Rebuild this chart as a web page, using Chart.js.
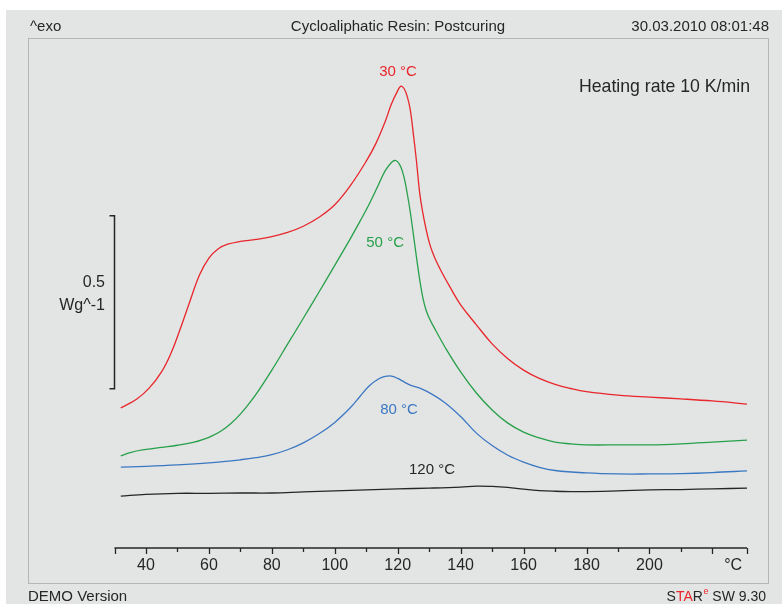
<!DOCTYPE html>
<html>
<head>
<meta charset="utf-8">
<script src="https://cdn.jsdelivr.net/npm/chart.js@4/dist/chart.umd.min.js"></script>
<style>
  html, body { margin: 0; padding: 0; background: #ffffff; }
  canvas { display: block; }
</style>
</head>
<body>
<canvas id="dsc" width="782" height="604" style="width:782px;height:604px"></canvas>
<script>
// DSC postcuring curves: temperature (°C) vs. heat flow (W/g, exo up, offset per curve)
const cure30T    = [32, 37, 41, 45, 48, 51, 54, 57, 60, 63, 66, 70, 75, 80, 85, 90, 95, 100, 105, 110, 113, 116, 118, 120, 121, 122, 123, 124, 125, 126, 127, 128, 129, 130, 131, 132, 134, 137, 140, 145, 150, 155, 160, 165, 170, 175, 180, 190, 200, 210, 220, 231];
const cure30Flow = [0.405, 0.430, 0.462, 0.510, 0.564, 0.636, 0.714, 0.789, 0.838, 0.865, 0.878, 0.886, 0.892, 0.900, 0.912, 0.930, 0.956, 0.992, 1.048, 1.118, 1.168, 1.232, 1.283, 1.322, 1.335, 1.328, 1.306, 1.266, 1.194, 1.115, 1.025, 0.968, 0.922, 0.884, 0.856, 0.834, 0.797, 0.748, 0.703, 0.645, 0.590, 0.547, 0.514, 0.490, 0.473, 0.461, 0.452, 0.442, 0.436, 0.431, 0.425, 0.416];

const cure50T    = [32, 35, 40, 45, 50, 55, 58, 61, 64, 67, 70, 73, 76, 80, 85, 90, 95, 100, 105, 108, 111, 114, 116, 118, 119, 120, 121, 122, 123, 124, 125, 126, 127, 128, 129, 130, 132, 135, 140, 145, 150, 155, 160, 165, 170, 175, 180, 190, 200, 210, 220, 231];
const cure50Flow = [0.266, 0.276, 0.285, 0.291, 0.297, 0.305, 0.313, 0.324, 0.339, 0.360, 0.387, 0.420, 0.458, 0.514, 0.589, 0.664, 0.740, 0.817, 0.895, 0.944, 0.995, 1.052, 1.090, 1.114, 1.120, 1.116, 1.101, 1.072, 1.026, 0.971, 0.905, 0.838, 0.775, 0.723, 0.688, 0.665, 0.630, 0.581, 0.509, 0.448, 0.399, 0.361, 0.335, 0.318, 0.306, 0.301, 0.298, 0.298, 0.298, 0.301, 0.306, 0.312];

const cure80T    = [32, 40, 50, 60, 70, 75, 80, 85, 90, 95, 100, 105, 108, 111, 114, 116, 118, 120, 122, 124, 127, 130, 135, 140, 145, 150, 155, 160, 165, 170, 180, 190, 200, 210, 220, 231];
const cure80Flow = [0.234, 0.236, 0.240, 0.246, 0.255, 0.261, 0.270, 0.284, 0.304, 0.330, 0.363, 0.406, 0.438, 0.469, 0.489, 0.496, 0.497, 0.490, 0.480, 0.471, 0.462, 0.449, 0.420, 0.380, 0.332, 0.296, 0.268, 0.248, 0.233, 0.224, 0.217, 0.214, 0.214, 0.215, 0.218, 0.223];

const cure120T    = [32, 40, 50, 60, 70, 80, 90, 100, 110, 120, 130, 140, 145, 150, 155, 160, 165, 170, 175, 180, 190, 200, 210, 220, 231];
const cure120Flow = [0.150, 0.155, 0.158, 0.158, 0.159, 0.159, 0.162, 0.165, 0.168, 0.171, 0.173, 0.176, 0.179, 0.178, 0.175, 0.170, 0.166, 0.164, 0.163, 0.163, 0.165, 0.168, 0.169, 0.171, 0.173];

// curve annotations (curing temperature), placed in data coordinates
const curveLabels    = ['30 °C', '50 °C', '80 °C', '120 °C'];
const curveLabelT    = [120.1, 116.0, 120.4, 130.9];
const curveLabelFlow = [1.376, 0.882, 0.399, 0.225];

// temperature axis
const axisStart = 30;
const axisEnd = 231;
const majorTicks = [40, 60, 80, 100, 120, 140, 160, 180, 200, 220];
const majorTickLabels = ['40', '60', '80', '100', '120', '140', '160', '180', '200', ''];
const minorTicks = [50, 70, 90, 110, 130, 150, 170, 190, 210];
const unitLabelT = 226.6;

// heat-flow scale bar: 0.5 W/g
const scaleBarFrom = 0.46;
const scaleBarSize = 0.5;

const COLORS = {
  c30: '#e8262b',
  c50: '#27a04a',
  c80: '#3b78c2',
  c120: '#262626',
  text: '#262626',
  panel: '#e3e4e4',
  frame: '#b4b5b5'
};
const FONT = '"Liberation Sans", Arial, sans-serif';

function points(ts, vs) {
  return ts.map((t, i) => ({ x: t, y: vs[i] }));
}

const starDecor = {
  id: 'starDecor',
  beforeDraw(chart) {
    const ctx = chart.ctx;
    ctx.save();
    ctx.fillStyle = '#ffffff';
    ctx.fillRect(0, 0, chart.width, chart.height);
    ctx.fillStyle = COLORS.panel;
    ctx.fillRect(6, 10, chart.width - 6, chart.height - 10);
    ctx.strokeStyle = COLORS.frame;
    ctx.lineWidth = 1;
    ctx.strokeRect(28.5, 38.5, 740, 545);
    ctx.restore();
  },
  afterDraw(chart) {
    const ctx = chart.ctx;
    const xs = chart.scales.x;
    const ys = chart.scales.y;
    ctx.save();
    ctx.fillStyle = COLORS.text;
    ctx.textBaseline = 'middle';

    // header
    ctx.font = '15px ' + FONT;
    ctx.textAlign = 'left';
    ctx.fillText('^exo', 30, 27);
    ctx.textAlign = 'center';
    ctx.fillText('Cycloaliphatic Resin: Postcuring', 398, 27);
    ctx.textAlign = 'right';
    ctx.fillText('30.03.2010 08:01:48', 769, 27);

    // footer
    ctx.textAlign = 'left';
    ctx.fillText('DEMO Version', 28, 597);
    ctx.font = '14px ' + FONT;
    ctx.textAlign = 'right';
    const tail = ' SW 9.30';
    const tailW = ctx.measureText(tail).width;
    let xr = 766;
    ctx.fillText(tail, xr, 597);
    xr -= tailW;
    ctx.font = '9px ' + FONT;
    ctx.fillStyle = COLORS.c30;
    ctx.fillText('e', xr, 592);
    xr -= ctx.measureText('e').width + 0.5;
    ctx.font = '14px ' + FONT;
    ctx.fillStyle = COLORS.text;
    ctx.fillText('R', xr, 597);
    xr -= ctx.measureText('R').width;
    ctx.fillStyle = COLORS.c30;
    ctx.fillText('TA', xr, 597);
    xr -= ctx.measureText('TA').width;
    ctx.fillStyle = COLORS.text;
    ctx.fillText('S', xr, 597);

    // heating rate note
    ctx.font = '17.7px ' + FONT;
    ctx.textAlign = 'right';
    ctx.fillText('Heating rate 10 K/min', 750, 87);

    // temperature axis
    const axisY = ys.getPixelForValue(0);
    const x0 = xs.getPixelForValue(axisStart);
    const x1 = xs.getPixelForValue(axisEnd);
    ctx.strokeStyle = COLORS.text;
    ctx.lineWidth = 1.5;
    ctx.beginPath();
    ctx.moveTo(x0, axisY);
    ctx.lineTo(x1, axisY);
    ctx.stroke();
    ctx.lineWidth = 1.3;
    ctx.beginPath();
    [axisStart, axisEnd].concat(majorTicks).forEach(t => {
      const px = Math.round(xs.getPixelForValue(t)) + 0.5;
      ctx.moveTo(px, axisY);
      ctx.lineTo(px, axisY + 6);
    });
    minorTicks.forEach(t => {
      const px = Math.round(xs.getPixelForValue(t)) + 0.5;
      ctx.moveTo(px, axisY);
      ctx.lineTo(px, axisY + 4);
    });
    ctx.stroke();

    ctx.font = '16px ' + FONT;
    ctx.textAlign = 'center';
    majorTicks.forEach((t, i) => {
      if (majorTickLabels[i]) ctx.fillText(majorTickLabels[i], xs.getPixelForValue(t), axisY + 18);
    });
    ctx.fillText('°C', xs.getPixelForValue(unitLabelT), axisY + 18);

    // scale bar
    const bx = Math.round(xs.getPixelForValue(axisStart)) - 0.5;
    const bTop = ys.getPixelForValue(scaleBarFrom + scaleBarSize);
    const bBot = ys.getPixelForValue(scaleBarFrom);
    ctx.lineWidth = 1.5;
    ctx.beginPath();
    ctx.moveTo(bx - 5, bTop);
    ctx.lineTo(bx, bTop);
    ctx.lineTo(bx, bBot);
    ctx.lineTo(bx - 5, bBot);
    ctx.stroke();
    ctx.textAlign = 'right';
    ctx.font = '16px ' + FONT;
    const mid = (bTop + bBot) / 2;
    ctx.fillText('0.5', 105, mid - 20);
    ctx.fillText('Wg^-1', 105, mid + 3);

    // curve annotations
    const labelColors = [COLORS.c30, COLORS.c50, COLORS.c80, COLORS.c120];
    ctx.font = '15px ' + FONT;
    ctx.textAlign = 'center';
    curveLabels.forEach((txt, i) => {
      ctx.fillStyle = labelColors[i];
      ctx.fillText(txt, xs.getPixelForValue(curveLabelT[i]), ys.getPixelForValue(curveLabelFlow[i]));
    });
    ctx.restore();
  }
};

new Chart(document.getElementById('dsc'), {
  type: 'line',
  data: {
    datasets: [
      { label: '30 °C', data: points(cure30T, cure30Flow), borderColor: COLORS.c30 },
      { label: '50 °C', data: points(cure50T, cure50Flow), borderColor: COLORS.c50 },
      { label: '80 °C', data: points(cure80T, cure80Flow), borderColor: COLORS.c80 },
      { label: '120 °C', data: points(cure120T, cure120Flow), borderColor: COLORS.c120 }
    ]
  },
  options: {
    responsive: false,
    animation: false,
    devicePixelRatio: 1,
    layout: { padding: { left: 114.5, right: 35, top: 29, bottom: 56 } },
    elements: {
      point: { radius: 0 },
      line: { borderWidth: 1.3, tension: 0.4, fill: false }
    },
    plugins: { legend: { display: false }, tooltip: { enabled: false } },
    scales: {
      x: { type: 'linear', min: axisStart, max: axisEnd, display: false },
      y: { type: 'linear', min: 0, max: 1.5, display: false }
    }
  },
  plugins: [starDecor]
});
</script>
</body>
</html>
